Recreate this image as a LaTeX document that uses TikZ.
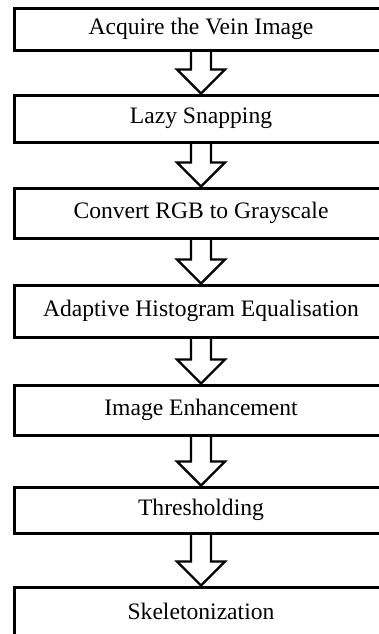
\documentclass[tikz,border=0pt]{standalone}
\usepackage{fontspec}
\setmainfont{Liberation Serif}
\usepackage{tikz}
\usetikzlibrary{calc}

% hollow block arrow from the bottom of one box to the top of the next
\newcommand{\blockarrow}[2]{%
  \draw[hollow] ($(#1.south)+(-10,0)$) -- ($(#2.north)+(-10,-24)$)
    -- ($(#2.north)+(-24,-24)$) -- (#2.north)
    -- ($(#2.north)+(24,-24)$) -- ($(#2.north)+(10,-24)$)
    -- ($(#1.south)+(10,0)$);}

\begin{document}
\begin{tikzpicture}[
    x=0.5pt, y=-0.5pt,
    every node/.style={align=center},
    stepbox/.style={draw, line width=1.5pt, minimum width=186pt, inner sep=0pt,
      font=\fontsize{11.8}{14}\selectfont},
    hollow/.style={line width=1.2pt, miter limit=20}
  ]
  \useasboundingbox (0,0) rectangle (379,634);
  \clip (0,0) rectangle (379,634);

  % Boxes
  \node[stepbox, minimum height=21pt] (acquire) at (201,29) {Acquire the Vein Image};
  \node[stepbox, minimum height=23.5pt] (snapping) at (201,118.5) {Lazy Snapping};
  \node[stepbox, minimum height=25pt] (gray) at (201,213) {Convert RGB to Grayscale};
  \node[stepbox, minimum height=26pt] (histeq) at (201,311) {Adaptive Histogram Equalisation};
  \node[stepbox, minimum height=25pt] (enhance) at (201,410) {Image Enhancement};
  \node[stepbox, minimum height=23pt] (thresh) at (201,510) {Thresholding};
  \node[stepbox, minimum height=24pt] (skeleton) at (201,611) {Skeletonization};

  % Arrows
  \blockarrow{acquire}{snapping}
  \blockarrow{snapping}{gray}
  \blockarrow{gray}{histeq}
  \blockarrow{histeq}{enhance}
  \blockarrow{enhance}{thresh}
  \blockarrow{thresh}{skeleton}
\end{tikzpicture}
\end{document}
